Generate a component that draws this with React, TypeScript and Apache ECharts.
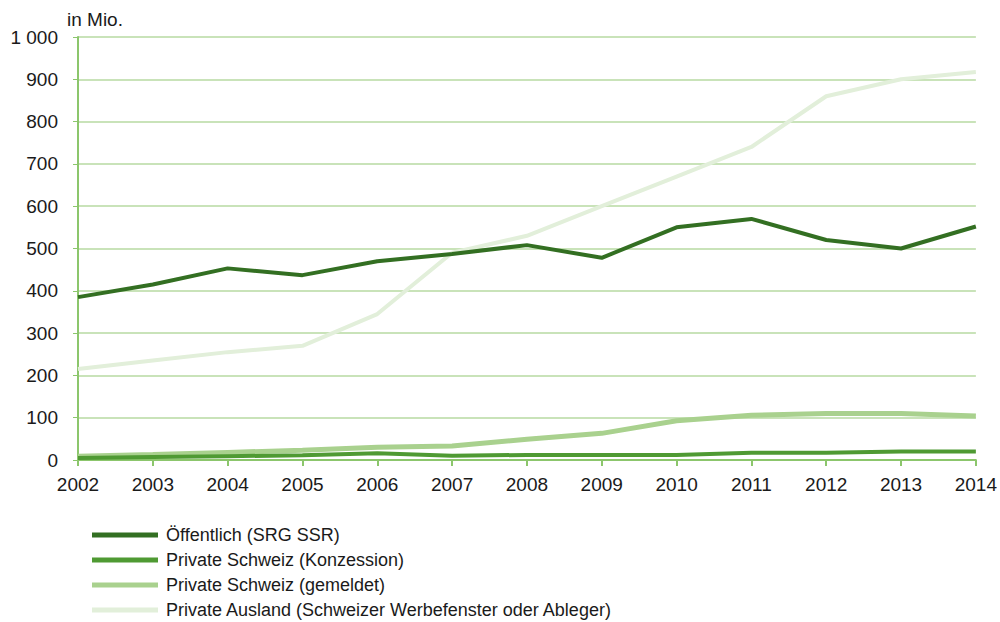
import React, { useEffect, useRef } from "react";
import * as echarts from "echarts";

const years = ["2002","2003","2004","2005","2006","2007","2008","2009","2010","2011","2012","2013","2014"];
const oeffentlich = [385, 415, 453, 437, 470, 487, 508, 478, 550, 570, 520, 500, 552];
const privKonzession = [5, 7, 9, 11, 16, 10, 12, 12, 12, 17, 17, 20, 20];
const privGemeldet = [9, 13, 18, 23, 30, 33, 49, 63, 93, 106, 110, 110, 104];
const privAusland = [215, 235, 255, 270, 345, 490, 530, 600, 670, 740, 860, 900, 917];

const names = [
  "Öffentlich (SRG SSR)",
  "Private Schweiz (Konzession)",
  "Private Schweiz (gemeldet)",
  "Private Ausland (Schweizer Werbefenster oder Ableger)",
];
const colors = ["#336f22", "#4f9a33", "#a9d18e", "#e2efda"];
const unitLabel = "in Mio.";

export default function App() {
  const ref = useRef<HTMLDivElement>(null);
  useEffect(() => {
    const chart = echarts.init(ref.current!, null, { renderer: "svg" });
    const font = "Liberation Sans, Arial, sans-serif";
    const mk = (i: number, data: number[], w: number) => ({
      name: names[i],
      type: "line",
      data,
      symbol: "none",
      lineStyle: { color: colors[i], width: w },
      itemStyle: { color: colors[i] },
      z: 10 - i,
    });
    chart.setOption({
      animation: false,
      backgroundColor: "#ffffff",
      textStyle: { fontFamily: font },
      grid: { left: 78, right: 23, top: 37, bottom: 162 },
      graphic: [
        {
          type: "text",
          left: 67,
          top: 10,
          style: { text: unitLabel, fontSize: 19, fill: "#1a1a1a", fontFamily: font },
        },
      ],
      legend: {
        orient: "vertical",
        left: 92,
        top: 525,
        height: 100,
        padding: 0,
        itemWidth: 66,
        itemHeight: 5,
        itemGap: 5,
        icon: "rect",
        textStyle: { fontSize: 18, lineHeight: 20, color: "#1a1a1a", fontFamily: font, padding: [0, 0, 0, 3] },
        data: names,
      },
      xAxis: {
        type: "category",
        data: years,
        boundaryGap: false,
        axisLine: { lineStyle: { color: "#8cc66c", width: 2 } },
        axisTick: { show: true, length: 6, lineStyle: { color: "#8cc66c", width: 2 } },
        axisLabel: { fontSize: 19, color: "#1a1a1a", margin: 15 },
        splitLine: { show: false },
      },
      yAxis: {
        type: "value",
        min: 0,
        max: 1000,
        interval: 100,
        axisLine: { show: true, lineStyle: { color: "#8cc66c", width: 2 } },
        axisTick: { show: true, length: 5, lineStyle: { color: "#8cc66c", width: 1 } },
        axisLabel: {
          fontSize: 19,
          color: "#1a1a1a",
          margin: 20,
          formatter: (v: number) => (v >= 1000 ? String(v).replace(/(\d)(\d{3})$/, "$1 $2") : String(v)),
        },
        splitLine: { show: true, lineStyle: { color: "#c9e3b9", width: 2 } },
      },
      series: [
        mk(3, privAusland, 4),
        mk(2, privGemeldet, 5),
        mk(1, privKonzession, 4),
        mk(0, oeffentlich, 4),
      ],
    });
    return () => chart.dispose();
  }, []);
  return <div ref={ref} style={{ width: 1000, height: 622, position: "absolute", left: 0, top: 0 }} />;
}
